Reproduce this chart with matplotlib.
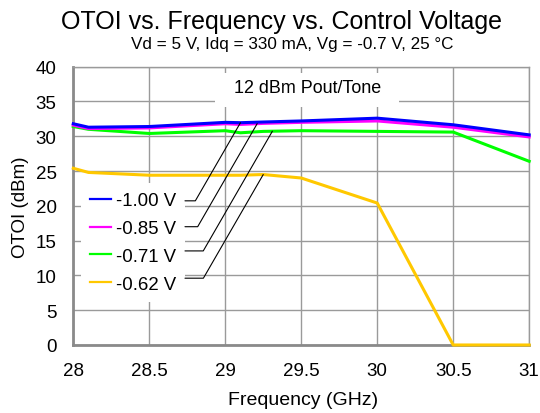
import numpy as np
import matplotlib
matplotlib.use('Agg')
import matplotlib.pyplot as plt
from matplotlib.patches import Rectangle

plt.rcParams['font.family'] = ['Liberation Sans', 'DejaVu Sans']

freq = [28.0, 28.1, 28.5, 29.0, 29.1, 29.25, 29.5, 30.0, 30.5, 31.0]
otoi_100 = [31.8, 31.3, 31.4, 32.0, 31.95, 32.05, 32.2, 32.6, 31.65, 30.2]
otoi_085 = [31.6, 31.1, 31.2, 31.8, 31.7, 31.85, 32.0, 32.2, 31.3, 29.9]
otoi_071 = [31.4, 31.0, 30.4, 30.8, 30.5, 30.7, 30.8, 30.7, 30.6, 26.4]
otoi_062 = [25.4, 24.8, 24.4, 24.4, 24.4, 24.5, 24.0, 20.4, 0.0, 0.0]

labels = ['-1.00 V', '-0.85 V', '-0.71 V', '-0.62 V']
series = [otoi_100, otoi_085, otoi_071, otoi_062]
colors = ['#0000FF', '#FF00FF', '#00FF00', '#FFC800']

# where each leader line touches its curve (GHz)
leader_freq = [29.10, 29.21, 29.31, 29.25]
leader_start_y = [0.518, 0.425, 0.338, 0.240]

fig = plt.figure(figsize=(5.4, 4.14), dpi=100)
ax = fig.add_axes([0.1357, 0.1643, 0.8443, 0.6722])

for i in range(len(series)):
    ax.plot(freq, series[i], color=colors[i], lw=2.2, label=labels[i],
            clip_on=False, zorder=3 + (3 - i))

ax.set_xlim(28, 31)
ax.set_ylim(0, 40)
ax.set_xticks([28, 28.5, 29, 29.5, 30, 30.5, 31])
ax.set_xticklabels(['28', '28.5', '29', '29.5', '30', '30.5', '31'])
ax.set_yticks(range(0, 41, 5))
ax.tick_params(length=0, labelsize=13.5, pad=12)
ax.grid(True, color='#9a9a9a', lw=1)
ax.set_axisbelow(True)
for side in ['top', 'right']:
    ax.spines[side].set_color('#9a9a9a')
    ax.spines[side].set_linewidth(1)
for side in ['left', 'bottom']:
    ax.spines[side].set_color('#8a8a8a')
    ax.spines[side].set_linewidth(2)

ax.set_xlabel('Frequency (GHz)', fontsize=14)
ax.xaxis.set_label_coords(0.505, -0.195, transform=ax.transAxes)
ax.xaxis.label.set_va('center')
ax.set_ylabel('OTOI (dBm)', fontsize=13.5, labelpad=5)

fig.text(0.522, 0.947, 'OTOI vs. Frequency vs. Control Voltage', ha='center', va='center', fontsize=18)
fig.text(0.541, 0.893, 'Vd = 5 V, Idq = 330 mA, Vg = -0.7 V, 25 °C', ha='center', va='center', fontsize=12.3)

ax.add_patch(Rectangle((0.311, 0.855), 0.4035, 0.122, transform=ax.transAxes,
                       facecolor='white', edgecolor='none', zorder=2))
ax.text(29.54, 36.94, '12 dBm Pout/Tone', ha='center', va='center', fontsize=12.9, zorder=8)

leg = ax.legend(loc='upper left', bbox_to_anchor=(0.017, 0.582), fontsize=13.4, frameon=True,
                facecolor='white', edgecolor='none', framealpha=1, fancybox=False,
                handlelength=1.1, handletextpad=0.27, labelspacing=0.58, borderpad=0.5,
                borderaxespad=0)
leg.set_zorder(6)
for h in leg.get_lines():
    h.set_linewidth(1.6)

for i in range(len(series)):
    yv = np.interp(leader_freq[i], freq, series[i])
    ax.annotate('', xy=(leader_freq[i], yv), xycoords='data',
                xytext=(0.245, leader_start_y[i]), textcoords='axes fraction',
                arrowprops=dict(arrowstyle='-', color='black', lw=0.8, shrinkA=0, shrinkB=0,
                                connectionstyle='angle,angleA=0,angleB=60,rad=0'),
                zorder=7)

fig.savefig('out.png', dpi=100)
